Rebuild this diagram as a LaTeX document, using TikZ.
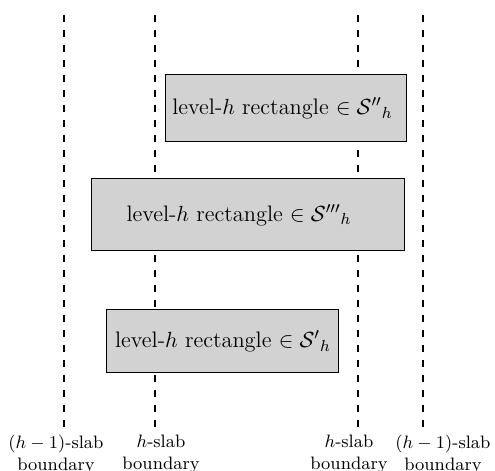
\documentclass[tikz,border=0pt]{standalone}
\usepackage{amssymb}
\usetikzlibrary{positioning}

\begin{document}
\begin{tikzpicture}[
        x=0.5pt, y=-0.5pt,
        every path/.style={line width=0.5pt},
        levelrect/.style={draw, fill=gray!35, inner sep=1pt, align=center, font=\fontsize{11.2}{13}\selectfont},
        slabline/.style={line width=0.6pt, dash pattern=on 3.5pt off 4pt},
        slablabel/.style={align=center, anchor=north, inner sep=0pt, font=\small}
    ]
    \useasboundingbox (0,0) rectangle (495,471);

    % Slab boundaries
    \coordinate (t1) at (64,15);  \coordinate (b1) at (64,427);
    \coordinate (t2) at (155,15); \coordinate (b2) at (155,427);
    \coordinate (t3) at (358,15); \coordinate (b3) at (358,427);
    \coordinate (t4) at (423,15); \coordinate (b4) at (423,427);
    \draw[slabline] (t1) -- (b1);
    \draw[slabline] (t2) -- (b2);
    \draw[slabline] (t3) -- (b3);
    \draw[slabline] (t4) -- (b4);

    % Nodes
    \node (top)[levelrect, minimum width=120.5pt, minimum height=33.5pt] at (286.5,108.5)
        {level-$h$ rectangle $\in {\mathcal{S}''}_h$\hspace*{4pt}};
    \node (mid)[levelrect, minimum width=156.5pt, minimum height=36pt] at (248.5,215)
        {level-$h$ rectangle $\in {\mathcal{S}'''}_h$\hspace*{9.5pt}};
    \node (bot)[levelrect, minimum width=116pt, minimum height=31.5pt] at (223,341.5)
        {level-$h$ rectangle $\in {\mathcal{S}'}_h$};

    \node (lab1)[slablabel] at (56,435) {$(h-1)$-slab\\boundary};
    \node (lab2)[slablabel] at (161,435) {$h$-slab\\boundary};
    \node (lab3)[slablabel] at (349,435) {$h$-slab\\boundary};
    \node (lab4)[slablabel] at (443,435) {$(h-1)$-slab\\boundary};

\end{tikzpicture}
\end{document}
